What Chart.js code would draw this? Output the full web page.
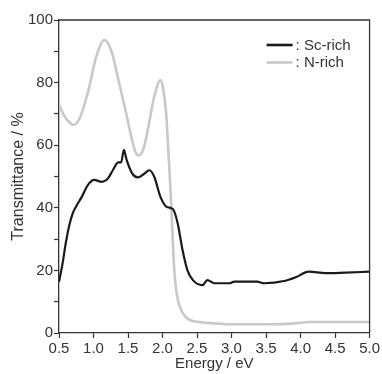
<!DOCTYPE html>
<html>
<head>
<meta charset="utf-8">
<script src="https://cdn.jsdelivr.net/npm/chart.js@4"></script>
<style>
  html, body { margin: 0; padding: 0; background: #fff; }
  #wrap { width: 382px; height: 374px; }
</style>
</head>
<body>
<div id="wrap"><canvas id="chart" width="382" height="374"></canvas></div>
<script>
// series labels
const seriesNames = [": Sc-rich", ": N-rich"];

// Sc-rich (black) curve
const scEnergy = [0.5, 0.55, 0.6, 0.65, 0.7, 0.75, 0.83, 0.92, 1.01, 1.12, 1.21, 1.28, 1.36, 1.40, 1.44, 1.48, 1.56, 1.64, 1.73, 1.81, 1.88, 1.97, 2.06, 2.15, 2.22, 2.29, 2.36, 2.44, 2.58, 2.65, 2.75, 2.97, 3.04, 3.37, 3.47, 3.78, 3.93, 4.12, 4.36, 4.65, 5.0];
const scTrans  = [16.4, 22, 29, 34.5, 38.3, 40.5, 43.5, 47.3, 48.9, 48.3, 49.4, 52, 54.5, 54.5, 58.5, 55.3, 51, 49.7, 50.8, 52, 49.9, 43.5, 40.3, 39.6, 35, 26.5, 20.1, 16.9, 15.3, 16.9, 15.9, 15.9, 16.4, 16.4, 15.9, 16.7, 17.8, 19.6, 19.1, 19.3, 19.6];

// N-rich (grey) curve
const nEnergy = [0.5, 0.55, 0.6, 0.71, 0.8, 0.92, 1.04, 1.16, 1.26, 1.36, 1.46, 1.55, 1.6, 1.65, 1.7, 1.75, 1.8, 1.88, 1.97, 2.01, 2.05, 2.08, 2.11, 2.14, 2.17, 2.21, 2.25, 2.32, 2.39, 2.5, 2.63, 2.8, 3.0, 3.5, 3.8, 4.0, 4.12, 5.0];
const nTrans  = [73, 70.5, 68.6, 66.5, 68.6, 77, 88.3, 93.6, 90, 81, 71.5, 62.5, 58.3, 56.7, 57.6, 61, 66.5, 75.5, 80.8, 78, 71, 60, 48, 34, 20, 12, 8.4, 5.5, 4.2, 3.6, 3.3, 3, 2.8, 2.8, 2.9, 3.3, 3.5, 3.5];

// axis ticks
const energyTicks = [0.5, 1.0, 1.5, 2.0, 2.5, 3.0, 3.5, 4.0, 4.5, 5.0];
const transTicks = [0, 10, 20, 30, 40, 50, 60, 70, 80, 90, 100];
const transLabels = ["0", "", "20", "", "40", "", "60", "", "80", "", "100"];

const textColor = "#333";
const axisColor = "#333";
const fontFamily = "'Liberation Sans', Arial, sans-serif";

function toPoints(xs, ys) {
  return xs.map((x, i) => ({ x: x, y: ys[i] }));
}

// box on top / right and the legend in the upper right corner
const framePlugin = {
  id: "frame",
  afterDraw(chart) {
    const ctx = chart.ctx;
    const a = chart.chartArea;
    ctx.save();
    ctx.strokeStyle = axisColor;
    ctx.lineWidth = 1.3;
    ctx.beginPath();
    ctx.moveTo(a.left, a.top);
    ctx.lineTo(a.right, a.top);
    ctx.lineTo(a.right, a.bottom);
    ctx.stroke();

    const colors = ["#1a1a1a", "#c8c8c8"];
    const rows = [45, 62.5];
    ctx.font = "15px " + fontFamily;
    ctx.textBaseline = "middle";
    ctx.fillStyle = textColor;
    seriesNames.forEach((name, i) => {
      ctx.strokeStyle = colors[i];
      ctx.lineWidth = 2.6;
      ctx.beginPath();
      ctx.moveTo(a.right - 103, rows[i]);
      ctx.lineTo(a.right - 77, rows[i]);
      ctx.stroke();
      ctx.fillText(name, a.right - 74, rows[i] + 0.5);
    });
    ctx.restore();
  }
};

new Chart(document.getElementById("chart").getContext("2d"), {
  type: "line",
  data: {
    datasets: [
      {
        label: seriesNames[0],
        data: toPoints(scEnergy, scTrans),
        borderColor: "#1a1a1a",
        borderWidth: 2.2,
        pointRadius: 0,
        cubicInterpolationMode: "monotone",
        fill: false
      },
      {
        label: seriesNames[1],
        data: toPoints(nEnergy, nTrans),
        borderColor: "#c8c8c8",
        borderWidth: 2.6,
        pointRadius: 0,
        cubicInterpolationMode: "monotone",
        fill: false
      }
    ]
  },
  options: {
    responsive: false,
    animation: false,
    layout: { padding: { top: 20, right: 11, left: 0, bottom: 0 } },
    plugins: {
      legend: { display: false },
      tooltip: { enabled: false }
    },
    scales: {
      x: {
        type: "linear",
        min: 0.5,
        max: 5.0,
        afterBuildTicks: (scale) => { scale.ticks = energyTicks.map(v => ({ value: v })); },
        afterFit: (scale) => { scale.height = 41; },
        ticks: {
          color: textColor,
          font: { family: fontFamily, size: 15 },
          padding: 2,
          maxRotation: 0,
          autoSkip: false,
          callback: (v) => v.toFixed(1)
        },
        grid: { drawOnChartArea: false, drawTicks: true, tickLength: 5, tickColor: axisColor, tickWidth: 1.2 },
        border: { display: true, color: axisColor, width: 1.3 },
        title: {
          display: true,
          text: "Energy / eV",
          color: textColor,
          font: { family: fontFamily, size: 15 },
          padding: { top: 0, bottom: 1 }
        }
      },
      y: {
        min: 0,
        max: 100,
        afterBuildTicks: (scale) => { scale.ticks = transTicks.map(v => ({ value: v })); },
        afterFit: (scale) => { scale.width = 59; },
        ticks: {
          color: textColor,
          font: { family: fontFamily, size: 15 },
          padding: 1,
          autoSkip: false,
          callback: (v) => transLabels[transTicks.indexOf(v)]
        },
        grid: { drawOnChartArea: false, drawTicks: true, tickLength: 5, tickColor: axisColor, tickWidth: 1.2 },
        border: { display: true, color: axisColor, width: 1.3 },
        title: {
          display: true,
          text: "Transmittance / %",
          color: textColor,
          font: { family: fontFamily, size: 16 },
          padding: { top: 9, bottom: 0 }
        }
      }
    }
  },
  plugins: [framePlugin]
});
</script>
</body>
</html>
